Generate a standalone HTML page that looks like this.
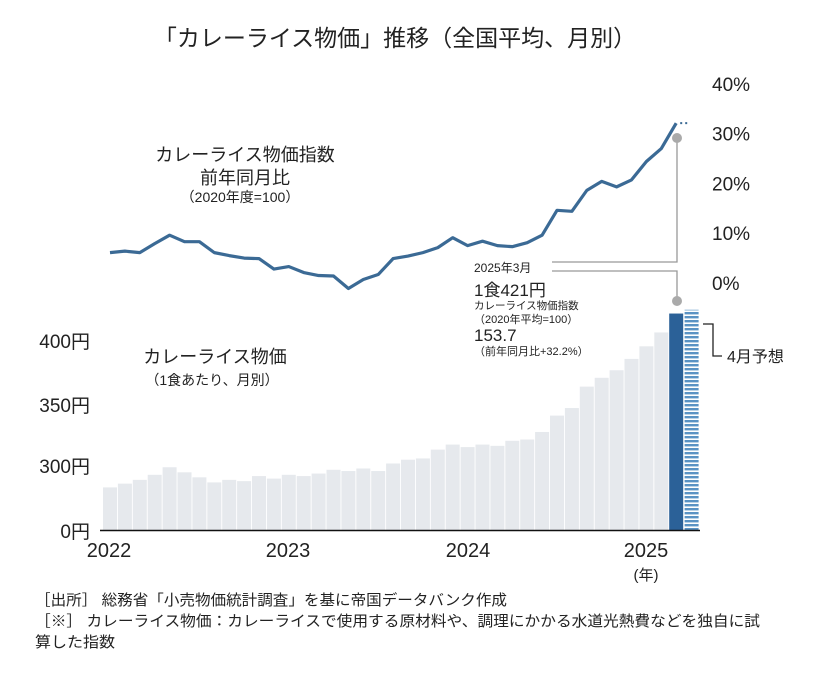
<!DOCTYPE html>
<html><head><meta charset="utf-8">
<style>
html,body{margin:0;padding:0;background:#fff;}
svg{display:block;font-family:"Liberation Sans","Noto Sans CJK JP",sans-serif;}
</style></head>
<body>
<svg id="chart" width="814" height="687" viewBox="0 0 814 687">
<defs>
<pattern id="stripes" width="4" height="4" patternUnits="userSpaceOnUse">
<rect width="4" height="4" fill="#fff"/>
<rect width="4" height="2.4" fill="#5a93c4"/>
</pattern>
</defs>
<text x="395" y="46" text-anchor="middle" font-size="23" fill="#222">「カレーライス物価」推移（全国平均、月別）</text>

<g id="grid"></g>
<g id="bars"></g>
<g id="lineg"></g>

<!-- right axis labels -->
<g font-size="19" fill="#222" id="raxis"></g>
<!-- left axis labels -->
<g font-size="19" fill="#222" text-anchor="end">
<text x="90" y="348">400円</text>
<text x="90" y="412">350円</text>
<text x="90" y="473">300円</text>
<text x="90" y="538">0円</text>
</g>
<line x1="100" y1="530.5" x2="700" y2="530.5" stroke="#111" stroke-width="1.5"/>
<g font-size="20" fill="#222" text-anchor="middle">
<text x="109" y="557">2022</text>
<text x="288" y="557">2023</text>
<text x="468" y="557">2024</text>
<text x="646" y="557">2025</text>
<text x="646" y="580" font-size="15">(年)</text>
</g>

<g fill="#222" text-anchor="middle">
<text x="245" y="161" font-size="18">カレーライス物価指数</text>
<text x="245" y="184" font-size="18">前年同月比</text>
<text x="240" y="202" font-size="14">（2020年度=100）</text>
</g>
<g fill="#222" text-anchor="middle">
<text x="215" y="363" font-size="18">カレーライス物価</text>
<text x="212" y="385" font-size="14">（1食あたり、月別）</text>
</g>

<!-- annotation -->
<g stroke="#999" stroke-width="1.3" fill="none">
<polyline points="552,262 677,262 677,138"/>
<polyline points="552,271 677,271 677,301"/>
</g>
<circle cx="677" cy="138" r="5" fill="#aaa"/>
<circle cx="677" cy="301" r="5" fill="#aaa"/>
<g fill="#222">
<text x="474" y="272" font-size="12">2025年3月</text>
<text x="474" y="296" font-size="17">1食421円</text>
<text x="474" y="309" font-size="10.5">カレーライス物価指数</text>
<text x="474" y="323" font-size="11">（2020年平均=100）</text>
<text x="474" y="341" font-size="17">153.7</text>
<text x="474" y="355" font-size="11">（前年同月比+32.2%）</text>
</g>
<polyline points="703,324 713,324 713,356 722,356" stroke="#222" stroke-width="1.3" fill="none"/>
<text x="727" y="362" font-size="16" fill="#222">4月予想</text>

<g fill="#222" font-size="15">
<text x="35" y="605" textLength="472" lengthAdjust="spacingAndGlyphs">［出所］ 総務省「小売物価統計調査」を基に帝国データバンク作成</text>
<text x="35" y="626" textLength="725" lengthAdjust="spacingAndGlyphs">［※］ カレーライス物価：カレーライスで使用する原材料や、調理にかかる水道光熱費などを独自に試</text>
<text x="35" y="647" textLength="80" lengthAdjust="spacingAndGlyphs">算した指数</text>
</g>
</svg>
<script>
const months = ["2022-01","2022-02","2022-03","2022-04","2022-05","2022-06","2022-07","2022-08","2022-09","2022-10","2022-11","2022-12","2023-01","2023-02","2023-03","2023-04","2023-05","2023-06","2023-07","2023-08","2023-09","2023-10","2023-11","2023-12","2024-01","2024-02","2024-03","2024-04","2024-05","2024-06","2024-07","2024-08","2024-09","2024-10","2024-11","2024-12","2025-01","2025-02","2025-03"];
const prices = [283,286,289,293,299,295,291,287,289,288,292,290,293,292,294,297,296,298,296,302,305,306,313,317,315,317,316,320,321,327,340,346,363,370,376,385,395,406,421];
const forecastPrice = [424];
const yoyPct = [6.1,6.4,6.1,7.9,9.6,8.3,8.3,6.1,5.5,5.0,4.9,2.8,3.3,2.1,1.5,1.4,-1.1,0.7,1.7,4.9,5.4,6.1,7.1,9.1,7.5,8.4,7.5,7.3,8.1,9.6,14.6,14.4,18.6,20.4,19.3,20.7,24.4,27.0,32.1];
const pctTicks = [0,10,20,30,40];

const NS="http://www.w3.org/2000/svg";
const x0=103, pitch=14.9, bw=14;
function xLeft(i){return x0+i*pitch;}
function xMid(i){return xLeft(i)+bw/2;}
// broken price axis: 0 at 530, 300 at 466, 1.26px per yen above 300
function yPrice(v){return v<=0?530:466-(v-300)*1.26;}
function yPct(p){return 283-p*4.98;}

const bars=document.getElementById('bars');
prices.forEach((v,i)=>{
  const r=document.createElementNS(NS,'rect');
  r.setAttribute('x',xLeft(i));r.setAttribute('width',bw);
  r.setAttribute('y',yPrice(v));r.setAttribute('height',530-yPrice(v));
  r.setAttribute('fill',i===prices.length-1?'#2b6198':'#e6e9ed');
  
  
  bars.appendChild(r);
});
forecastPrice.forEach((v,k)=>{
  const i=prices.length+k;
  const r=document.createElementNS(NS,'rect');
  r.setAttribute('x',xLeft(i)+0.5);r.setAttribute('width',bw);
  r.setAttribute('y',yPrice(v));r.setAttribute('height',530-yPrice(v));
  r.setAttribute('fill','url(#stripes)');
  
  
  bars.appendChild(r);
});

const lg=document.getElementById('lineg');
const pts=yoyPct.map((p,i)=>xMid(i)+','+yPct(p)).join(' ');
const pl=document.createElementNS(NS,'polyline');
pl.setAttribute('points',pts);
pl.setAttribute('fill','none');pl.setAttribute('stroke','#3b6a95');
pl.setAttribute('stroke-width','3.2');pl.setAttribute('stroke-linejoin','round');


lg.appendChild(pl);
const last=yoyPct.length-1;
const dots=document.createElementNS(NS,'line');
dots.setAttribute('x1',xMid(last)+4);dots.setAttribute('x2',xMid(last)+12);
dots.setAttribute('y1',yPct(yoyPct[last]));dots.setAttribute('y2',yPct(yoyPct[last]));
dots.setAttribute('stroke','#3b6a95');dots.setAttribute('stroke-width','2');
dots.setAttribute('stroke-dasharray','2 3');


lg.appendChild(dots);

const ra=document.getElementById('raxis');
pctTicks.forEach(t=>{
  const tx=document.createElementNS(NS,'text');
  tx.setAttribute('x',712);tx.setAttribute('y',yPct(t)+7);
  tx.textContent=t+'%';
  
  
  ra.appendChild(tx);
});
</script>
</body></html>
